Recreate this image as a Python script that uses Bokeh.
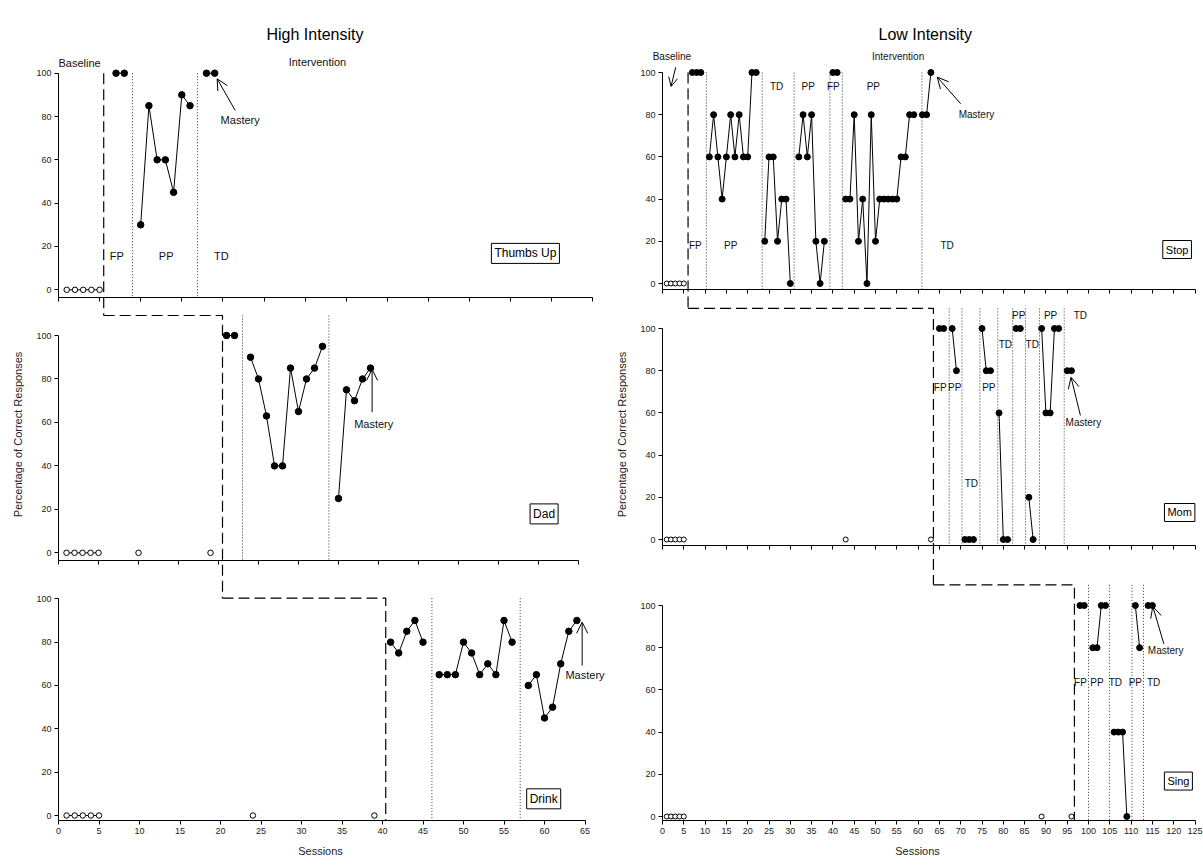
from bokeh.plotting import figure
from bokeh.models import (Range1d, LinearAxis, FixedTicker, Label, Arrow, OpenHead,
                          CustomJSTickFormatter)
from bokeh.layouts import row
from bokeh.embed import file_html
from bokeh.resources import INLINE
from bokeh.core.properties import value

FONT = "Liberation Sans"

# ======================= DATA =======================
pct_ticks = [0, 20, 40, 60, 80, 100]
session_ticks_high = list(range(0, 66, 5))
session_ticks_low = list(range(0, 126, 5))

# ---------- High Intensity ----------
# Thumbs Up
thumbs_base_x = [1, 2, 3, 4, 5]
thumbs_base_y = [0, 0, 0, 0, 0]
thumbs_probe_x = []
thumbs_probe_y = []
thumbs_fp_x = [7, 8]
thumbs_fp_y = [100, 100]
thumbs_pp_x = [10, 11, 12, 13, 14, 15, 16]
thumbs_pp_y = [30, 85, 60, 60, 45, 90, 85]
thumbs_td_x = [18, 19]
thumbs_td_y = [100, 100]
thumbs_change = 5.5
thumbs_subphase = [9.0, 16.9]
thumbs_phase_text = ["FP", "PP", "TD"]
thumbs_phase_x = [7.1, 13.1, 19.8]
thumbs_phase_y = [15.4, 15.4, 15.4]
thumbs_mastery = (22.1, 78.2)
thumbs_mastery_arrow = (21.5, 82.8, 19.3, 97.4)
thumbs_box = ("Thumbs Up", 56.8, 16.8)

# Dad
dad_base_x = [1, 2, 3, 4, 5]
dad_base_y = [0, 0, 0, 0, 0]
dad_probe_x = [10, 19]
dad_probe_y = [0, 0]
dad_fp_x = [21, 22]
dad_fp_y = [100, 100]
dad_pp1_x = [24, 25, 26, 27, 28, 29, 30, 31, 32, 33]
dad_pp1_y = [90, 80, 63, 40, 40, 85, 65, 80, 85, 95]
dad_pp2_x = [35, 36, 37, 38, 39]
dad_pp2_y = [25, 75, 70, 80, 85]
dad_change = 20.5
dad_subphase = [23.0, 33.8]
dad_mastery = (39.4, 59.4)
dad_mastery_arrow = (39.2, 64.7, 39.2, 84.4)
dad_box = ("Dad", 60.7, 17.9)

# Drink
drink_base_x = [1, 2, 3, 4, 5]
drink_base_y = [0, 0, 0, 0, 0]
drink_probe_x = [24, 39]
drink_probe_y = [0, 0]
drink_p1_x = [41, 42, 43, 44, 45]
drink_p1_y = [80, 75, 85, 90, 80]
drink_p2_x = [47, 48, 49, 50, 51, 52, 53, 54, 55, 56]
drink_p2_y = [65, 65, 65, 80, 75, 65, 70, 65, 90, 80]
drink_p3_x = [58, 59, 60, 61, 62, 63, 64]
drink_p3_y = [60, 65, 45, 50, 70, 85, 90]
drink_change = 40.4
drink_subphase = [46.1, 57.0]
drink_mastery = (65.0, 64.9)
drink_mastery_arrow = (64.65, 69.2, 64.65, 89.2)
drink_box = ("Drink", 59.9, 7.7)

# ---------- Low Intensity ----------
# Stop
stop_base_x = [1, 2, 3, 4, 5]
stop_base_y = [0, 0, 0, 0, 0]
stop_probe_x = []
stop_probe_y = []
stop_fp1_x = [7, 8, 9]
stop_fp1_y = [100, 100, 100]
stop_pp1_x = [11, 12, 13, 14, 15, 16, 17, 18, 19, 20, 21, 22]
stop_pp1_y = [60, 80, 60, 40, 60, 80, 60, 80, 60, 60, 100, 100]
stop_td1_x = [24, 25, 26, 27, 28, 29, 30]
stop_td1_y = [20, 60, 60, 20, 40, 40, 0]
stop_pp2_x = [32, 33, 34, 35, 36, 37, 38]
stop_pp2_y = [60, 80, 60, 80, 20, 0, 20]
stop_fp2_x = [40, 41]
stop_fp2_y = [100, 100]
stop_pp3_x = [43, 44, 45, 46, 47, 48, 49, 50, 51, 52, 53, 54, 55, 56, 57, 58, 59]
stop_pp3_y = [40, 40, 80, 20, 40, 0, 80, 20, 40, 40, 40, 40, 40, 60, 60, 80, 80]
stop_td2_x = [61, 62, 63]
stop_td2_y = [80, 80, 100]
stop_change = 6.0
stop_subphase = [10.3, 23.4, 30.9, 39.3, 42.2, 60.9]
stop_phase_text = ["FP", "PP", "TD", "PP", "FP", "PP", "TD"]
stop_phase_x = [7.7, 16.0, 26.8, 34.2, 40.1, 49.5, 66.8]
stop_phase_y = [18, 18, 93.5, 93.5, 93.5, 93.5, 18]
stop_mastery = (73.7, 80.1)
stop_mastery_arrow = (70.0, 85.2, 64.5, 97.8)
stop_baseline_arrow = (3.1, 102.5, 2.0, 93.4)
stop_box = ("Stop", 120.8, 16.1)

# Mom
mom_base_x = [1, 2, 3, 4, 5]
mom_base_y = [0, 0, 0, 0, 0]
mom_probe_x = [43, 63]
mom_probe_y = [0, 0]
mom_fp_x = [65, 66]
mom_fp_y = [100, 100]
mom_pp1_x = [68, 69]
mom_pp1_y = [100, 80]
mom_td1_x = [71, 72, 73]
mom_td1_y = [0, 0, 0]
mom_pp2_x = [75, 76, 77]
mom_pp2_y = [100, 80, 80]
mom_td2_x = [79, 80, 81]
mom_td2_y = [60, 0, 0]
mom_pp3_x = [83, 84]
mom_pp3_y = [100, 100]
mom_td3_x = [86, 87]
mom_td3_y = [20, 0]
mom_pp4_x = [89, 90, 91, 92, 93]
mom_pp4_y = [100, 60, 60, 100, 100]
mom_td4_x = [95, 96]
mom_td4_y = [80, 80]
mom_change = 63.6
mom_subphase = [67.3, 70.3, 74.5, 78.7, 82.2, 85.2, 88.5, 94.3]
mom_phase_text = ["FP", "PP", "TD", "PP", "TD", "PP", "TD", "PP", "TD"]
mom_phase_x = [65.2, 68.6, 72.5, 76.6, 80.5, 83.6, 86.8, 91.1, 98.1]
mom_phase_y = [72.2, 72.2, 26.4, 72.2, 92.3, 106.2, 92.3, 106.2, 106.2]
mom_mastery = (98.8, 55.6)
mom_mastery_arrow = (98.1, 58.8, 95.9, 76.9)
mom_box = ("Mom", 121.4, 12.8)

# Sing
sing_base_x = [1, 2, 3, 4, 5]
sing_base_y = [0, 0, 0, 0, 0]
sing_probe_x = [89, 96]
sing_probe_y = [0, 0]
sing_fp_x = [98, 99]
sing_fp_y = [100, 100]
sing_pp1_x = [101, 102, 103, 104]
sing_pp1_y = [80, 80, 100, 100]
sing_td1_x = [106, 107, 108, 109]
sing_td1_y = [40, 40, 40, 0]
sing_pp2_x = [111, 112]
sing_pp2_y = [100, 80]
sing_td2_x = [114, 115]
sing_td2_y = [100, 100]
sing_change = 96.7
sing_subphase = [100.0, 104.9, 110.2, 112.9]
sing_phase_text = ["FP", "PP", "TD", "PP", "TD"]
sing_phase_x = [98.1, 102.0, 106.3, 111.0, 115.3]
sing_phase_y = [63.6, 63.6, 63.6, 63.6, 63.6]
sing_mastery = (118.1, 78.7)
sing_mastery_arrow = (117.7, 81.8, 115.1, 99.5)
sing_box = ("Sing", 121.1, 16.8)

# ======================= LAYOUT =======================
FRAME_TOP = 48
FRAME_BOTTOM = 820
FIG_H = 865
PAD = 28   # room inside the frame, left of session 0, for the y tick labels

high_geo = dict(offset=0, width=612, zero_x=58, frame_right=610, axis_max=65,
                ticks=session_ticks_high, text_size="11px", box_size="12px",
                title="High Intensity", title_left=266,
                panels=[dict(zero=289.3, ppu=2.166, xscale=8.22, axis_y=-3.4),
                        dict(zero=552.3, ppu=2.173, xscale=8.0, axis_y=-3.5),
                        dict(zero=815.0, ppu=2.167, xscale=8.1, axis_y=None)],
                levels=[100, 109.2, 100.3], sub_top=[100, 109.2, 100.3],
                base_size=5.5, dot_size=6.5)
low_geo = dict(offset=612, width=591, zero_x=662, frame_right=1200, axis_max=125,
               ticks=session_ticks_low, text_size="10px", box_size="11px",
               title="Low Intensity", title_left=878,
               panels=[dict(zero=283.0, ppu=2.11, xscale=4.26, axis_y=-2.8),
                       dict(zero=539.0, ppu=2.11, xscale=4.26, axis_y=-2.85),
                       dict(zero=816.0, ppu=2.11, xscale=4.26, axis_y=None)],
               levels=[100, 109.5, 109.8], sub_top=[100, 109.5, 109.8],
               base_size=5.0, dot_size=6.0)

high_panels = [
    dict(base=(thumbs_base_x, thumbs_base_y), probe=(thumbs_probe_x, thumbs_probe_y),
         runs=[(thumbs_fp_x, thumbs_fp_y), (thumbs_pp_x, thumbs_pp_y), (thumbs_td_x, thumbs_td_y)],
         change=thumbs_change, sub=thumbs_subphase,
         phase=(thumbs_phase_text, thumbs_phase_x, thumbs_phase_y),
         mastery=thumbs_mastery, arrow=thumbs_mastery_arrow, box=thumbs_box),
    dict(base=(dad_base_x, dad_base_y), probe=(dad_probe_x, dad_probe_y),
         runs=[(dad_fp_x, dad_fp_y), (dad_pp1_x, dad_pp1_y), (dad_pp2_x, dad_pp2_y)],
         change=dad_change, sub=dad_subphase, phase=None,
         mastery=dad_mastery, arrow=dad_mastery_arrow, box=dad_box),
    dict(base=(drink_base_x, drink_base_y), probe=(drink_probe_x, drink_probe_y),
         runs=[(drink_p1_x, drink_p1_y), (drink_p2_x, drink_p2_y), (drink_p3_x, drink_p3_y)],
         change=drink_change, sub=drink_subphase, phase=None,
         mastery=drink_mastery, arrow=drink_mastery_arrow, box=drink_box),
]
low_panels = [
    dict(base=(stop_base_x, stop_base_y), probe=(stop_probe_x, stop_probe_y),
         runs=[(stop_fp1_x, stop_fp1_y), (stop_pp1_x, stop_pp1_y), (stop_td1_x, stop_td1_y),
               (stop_pp2_x, stop_pp2_y), (stop_fp2_x, stop_fp2_y), (stop_pp3_x, stop_pp3_y),
               (stop_td2_x, stop_td2_y)],
         change=stop_change, sub=stop_subphase,
         phase=(stop_phase_text, stop_phase_x, stop_phase_y),
         mastery=stop_mastery, arrow=stop_mastery_arrow, box=stop_box),
    dict(base=(mom_base_x, mom_base_y), probe=(mom_probe_x, mom_probe_y),
         runs=[(mom_fp_x, mom_fp_y), (mom_pp1_x, mom_pp1_y), (mom_td1_x, mom_td1_y),
               (mom_pp2_x, mom_pp2_y), (mom_td2_x, mom_td2_y), (mom_pp3_x, mom_pp3_y),
               (mom_td3_x, mom_td3_y), (mom_pp4_x, mom_pp4_y), (mom_td4_x, mom_td4_y)],
         change=mom_change, sub=mom_subphase,
         phase=(mom_phase_text, mom_phase_x, mom_phase_y),
         mastery=mom_mastery, arrow=mom_mastery_arrow, box=mom_box),
    dict(base=(sing_base_x, sing_base_y), probe=(sing_probe_x, sing_probe_y),
         runs=[(sing_fp_x, sing_fp_y), (sing_pp1_x, sing_pp1_y), (sing_td1_x, sing_td1_y),
               (sing_pp2_x, sing_pp2_y), (sing_td2_x, sing_td2_y)],
         change=sing_change, sub=sing_subphase,
         phase=(sing_phase_text, sing_phase_x, sing_phase_y),
         mastery=sing_mastery, arrow=sing_mastery_arrow, box=sing_box),
]


def style_axis(ax):
    ax.axis_line_color = "black"
    ax.axis_line_width = 1
    ax.major_tick_line_color = "black"
    ax.major_tick_out = 4
    ax.major_tick_in = 0
    ax.minor_tick_line_color = None
    ax.major_label_text_font = FONT
    ax.major_label_text_font_size = "9px"
    ax.major_label_text_color = "#222"
    ax.major_label_standoff = 3
    ax.axis_label_text_font = FONT
    ax.axis_label_text_font_size = "11px"
    ax.axis_label_text_font_style = "normal"
    ax.axis_label_text_color = "#222"


def build(geo, panels, header, extra_arrow=None):
    off = geo["offset"]
    zx = geo["zero_x"]
    frame_left = zx - PAD
    fr = geo["frame_right"]
    p = figure(width=geo["width"], height=FIG_H, x_range=Range1d(0, 1), y_range=Range1d(0, 1),
               x_axis_type=None, y_axis_type=None, toolbar_location=None,
               output_backend="svg", outline_line_color=None,
               min_border_left=frame_left - off, min_border_right=off + geo["width"] - fr,
               min_border_top=FRAME_TOP, min_border_bottom=FIG_H - FRAME_BOTTOM)
    p.title.text = geo["title"]
    p.title.align = "left"
    p.title.offset = geo["title_left"] - frame_left
    p.title.text_font = FONT
    p.title.text_font_size = "16px"
    p.title.text_font_style = "normal"
    p.title.text_color = "black"
    p.title.standoff = 12

    gs = geo["panels"]
    xr, yr = {}, {}
    for i, g in enumerate(gs):
        xr[f"x{i}"] = Range1d(-PAD / g["xscale"], (fr - zx) / g["xscale"])
        yr[f"y{i}"] = Range1d((g["zero"] - FRAME_BOTTOM) / g["ppu"], (g["zero"] - FRAME_TOP) / g["ppu"])
    p.extra_x_ranges = xr
    p.extra_y_ranges = yr

    def ypx(i, v):
        return gs[i]["zero"] - v * gs[i]["ppu"]

    def yval(i, px):
        return (gs[i]["zero"] - px) / gs[i]["ppu"]

    def xconv(i_from, i_to, s):
        return s * gs[i_from]["xscale"] / gs[i_to]["xscale"]

    axis_levels = []
    for g in gs:
        axis_levels.append(g["axis_y"] if g["axis_y"] is not None
                           else (g["zero"] - FRAME_BOTTOM) / g["ppu"])

    for i, (g, d) in enumerate(zip(gs, panels)):
        xn, yn = f"x{i}", f"y{i}"
        ay = axis_levels[i]
        # ---- axes ----
        yax = LinearAxis(x_range_name=xn, y_range_name=yn, ticker=FixedTicker(ticks=pct_ticks),
                         bounds=(ay, 100), fixed_location=0)
        style_axis(yax)
        p.add_layout(yax, "left")
        if i == 1:
            lab = LinearAxis(y_range_name=yn, ticker=FixedTicker(ticks=[]), bounds=(ay, 100),
                             axis_label="Percentage of Correct Responses")
            style_axis(lab)
            lab.axis_line_color = None
            lab.major_tick_out = 0
            lab.major_label_standoff = 0
            lab.axis_label_standoff = 7
            p.add_layout(lab, "left")
        xax = LinearAxis(x_range_name=xn, y_range_name=yn, ticker=FixedTicker(ticks=geo["ticks"]),
                         bounds=(0, geo["axis_max"]))
        style_axis(xax)
        if i != 2:
            xax.fixed_location = ay
            xax.formatter = CustomJSTickFormatter(code="return ''")
        else:
            xax.axis_label = "Sessions"
            xax.axis_label_standoff = 8
        p.add_layout(xax, "below")

        kw = dict(x_range_name=xn, y_range_name=yn)
        # ---- sub-phase dotted lines ----
        for s in d["sub"]:
            p.line([s, s], [geo["sub_top"][i], ay], line_color="#333", line_width=1,
                   line_dash="1 2", **kw)
        # ---- baseline / intervention dashed step line ----
        if i == 0:
            bottom_px = ypx(1, geo["levels"][1])
            p.line([d["change"], d["change"]], [geo["levels"][0], yval(0, bottom_px)],
                   line_color="black", line_width=1.2, line_dash="11 5", **kw)
        else:
            prev = xconv(i - 1, i, panels[i - 1]["change"])
            if i < 2:
                low = yval(i, ypx(i + 1, geo["levels"][i + 1]))
            else:
                low = ay
            p.line([prev, d["change"], d["change"]], [geo["levels"][i], geo["levels"][i], low],
                   line_color="black", line_width=1.2, line_dash="11 5", **kw)
        # ---- data ----
        bx, by = d["base"]
        p.line(bx, by, line_color="black", line_width=1, **kw)
        p.scatter(bx, by, size=geo["base_size"], marker="circle", fill_color="white",
                  line_color="black", line_width=1, **kw)
        px_, py_ = d["probe"]
        if px_:
            p.scatter(px_, py_, size=geo["base_size"], marker="circle", fill_color="white",
                      line_color="black", line_width=1, **kw)
        for rx, ry in d["runs"]:
            p.line(rx, ry, line_color="black", line_width=1, **kw)
            p.scatter(rx, ry, size=geo["dot_size"], marker="circle", fill_color="black",
                      line_color="black", **kw)
        # ---- phase labels ----
        if d["phase"] is not None:
            t, tx, ty = d["phase"]
            p.text(x=tx, y=ty, text=t, text_font=value(FONT), text_font_size=geo["text_size"],
                   text_align="center", text_baseline="middle", text_color="#111", **kw)
        # ---- mastery ----
        mx, my = d["mastery"]
        p.add_layout(Label(x=mx, y=my, text="Mastery", text_font=FONT,
                           text_font_size=geo["text_size"], text_align="center",
                           text_baseline="middle", text_color="#111", **kw))
        a = d["arrow"]
        p.add_layout(Arrow(end=OpenHead(size=11, line_width=1, line_color="black"),
                           x_start=a[0], y_start=a[1], x_end=a[2], y_end=a[3],
                           line_width=1, line_color="black", **kw))
        # ---- boxed behaviour name ----
        bt, bxx, byy = d["box"]
        p.add_layout(Label(x=bxx, y=byy, text=bt, text_font=FONT, text_font_size=geo["box_size"],
                           text_align="center", text_baseline="middle", text_color="black",
                           border_line_color="black", border_line_width=1,
                           background_fill_color="white", padding=3, **kw))

    # ---- headers ----
    for txt, hx, hy, align in header:
        p.add_layout(Label(x=hx, y=hy, text=txt, text_font=FONT, text_font_size=geo["text_size"],
                           text_align=align, text_baseline="middle", text_color="#111",
                           x_range_name="x0", y_range_name="y0"))
    if extra_arrow is not None:
        a = extra_arrow
        p.add_layout(Arrow(end=OpenHead(size=9, line_width=1, line_color="black"),
                           x_start=a[0], y_start=a[1], x_end=a[2], y_end=a[3],
                           line_width=1, line_color="black", x_range_name="x0", y_range_name="y0"))
    return p


left = build(high_geo, high_panels,
             header=[("Baseline", 0, 104.6, "left"), ("Intervention", 31.5, 105.0, "center")])
right = build(low_geo, low_panels,
              header=[("Baseline", 2.2, 107.6, "center"), ("Intervention", 55.3, 107.6, "center")],
              extra_arrow=stop_baseline_arrow)

layout = row(left, right)
open("out.html", "w").write(file_html(layout, INLINE))
